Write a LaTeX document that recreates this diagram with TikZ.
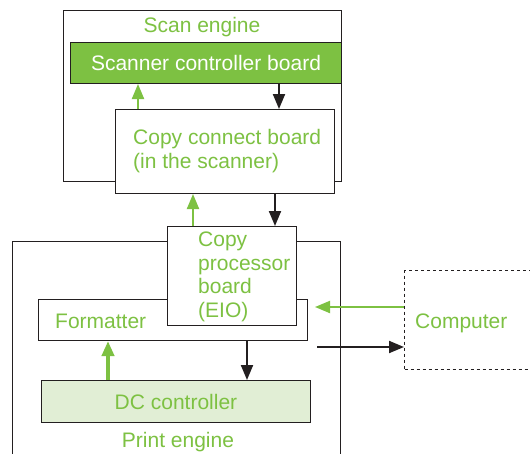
\documentclass[tikz,border=0pt]{standalone}
\usepackage{fontspec}
\setmainfont{Liberation Sans}
\usetikzlibrary{arrows.meta}
\definecolor{hpgreen}{HTML}{7DC142}
\definecolor{hplight}{HTML}{E1EED5}
\definecolor{hpblack}{HTML}{231F20}
\begin{document}
\begin{tikzpicture}[x=1pt,y=-1pt,
    box/.style={draw=hpblack,line width=1pt,fill=white,inner sep=0pt,anchor=north west},
    txt/.style={text=hpgreen,font=\fontsize{21}{23.5}\selectfont,inner sep=0pt},
    garrow/.style={draw=hpgreen,line width=2pt,-{Triangle[length=15pt,width=12pt]}},
    barrow/.style={draw=hpblack,line width=2pt,-{Triangle[length=15pt,width=12pt]}}]
    \clip (0,0) rectangle (530,453);
    % scan engine
    \node[box,minimum width=278pt,minimum height=171pt] (scan) at (63,10) {};
    \node[txt] (scanlbl) at (202,27) {Scan engine};
    \node[box,fill=hpgreen,txt,text=white,anchor=north west,minimum width=271pt,minimum height=41pt] (scb) at (70,42) {Scanner controller board};
    \node[box,minimum width=219pt,minimum height=84pt] (ccb) at (115,109) {};
    \node[txt,align=left,anchor=west] (ccblbl) at (133,151) {Copy connect board\\(in the scanner)};
    % print engine
    \node[box,minimum width=328pt,minimum height=240pt] (print) at (12,241) {};
    \node[txt] (printlbl) at (178,442) {Print engine};
    \node[box,minimum width=269pt,minimum height=41pt] (fmt) at (38,299) {};
    \node[txt,anchor=west] (fmtlbl) at (55,321) {Formatter};
    \node[box,minimum width=129pt,minimum height=99pt] (cpb) at (167,226) {};
    \node[txt,align=left,anchor=west] (cpblbl) at (198,277) {Copy\\processor\\board\\(EIO)};
    \node[box,fill=hplight,txt,anchor=north west,minimum width=269pt,minimum height=42pt] (dc) at (41,380) {DC controller};
    % computer
    \node[box,dashed,minimum width=140pt,minimum height=99pt] (comp) at (404,270) {};
    \node[txt,anchor=west] (complbl) at (415,323) {Computer};
    % connectors
    \draw[garrow] ([xshift=23pt]ccb.north west) -- ([xshift=68pt]scb.south west);
    \draw[barrow] ([xshift=209pt]scb.south west) -- ([xshift=164pt]ccb.north west);
    \draw[garrow] ([xshift=26pt]cpb.north west) -- ([xshift=78pt]ccb.south west);
    \draw[barrow] ([xshift=160pt]ccb.south west) -- ([xshift=108pt]cpb.north west);
    \coordinate (fin) at ([shift={(7pt,-8pt)}]fmt.north east);
    \coordinate (fout) at ([shift={(9pt,-6pt)}]fmt.south east);
    \draw[garrow] (comp.west |- fin) -- (fin);
    \draw[barrow] (fout) -- (fout -| comp.west);
    \draw[garrow,line width=4pt] ([xshift=67pt]dc.north west) -- ([xshift=70pt]fmt.south west);
    \draw[barrow] ([xshift=209pt]fmt.south west) -- ([xshift=206pt]dc.north west);
\end{tikzpicture}
\end{document}
